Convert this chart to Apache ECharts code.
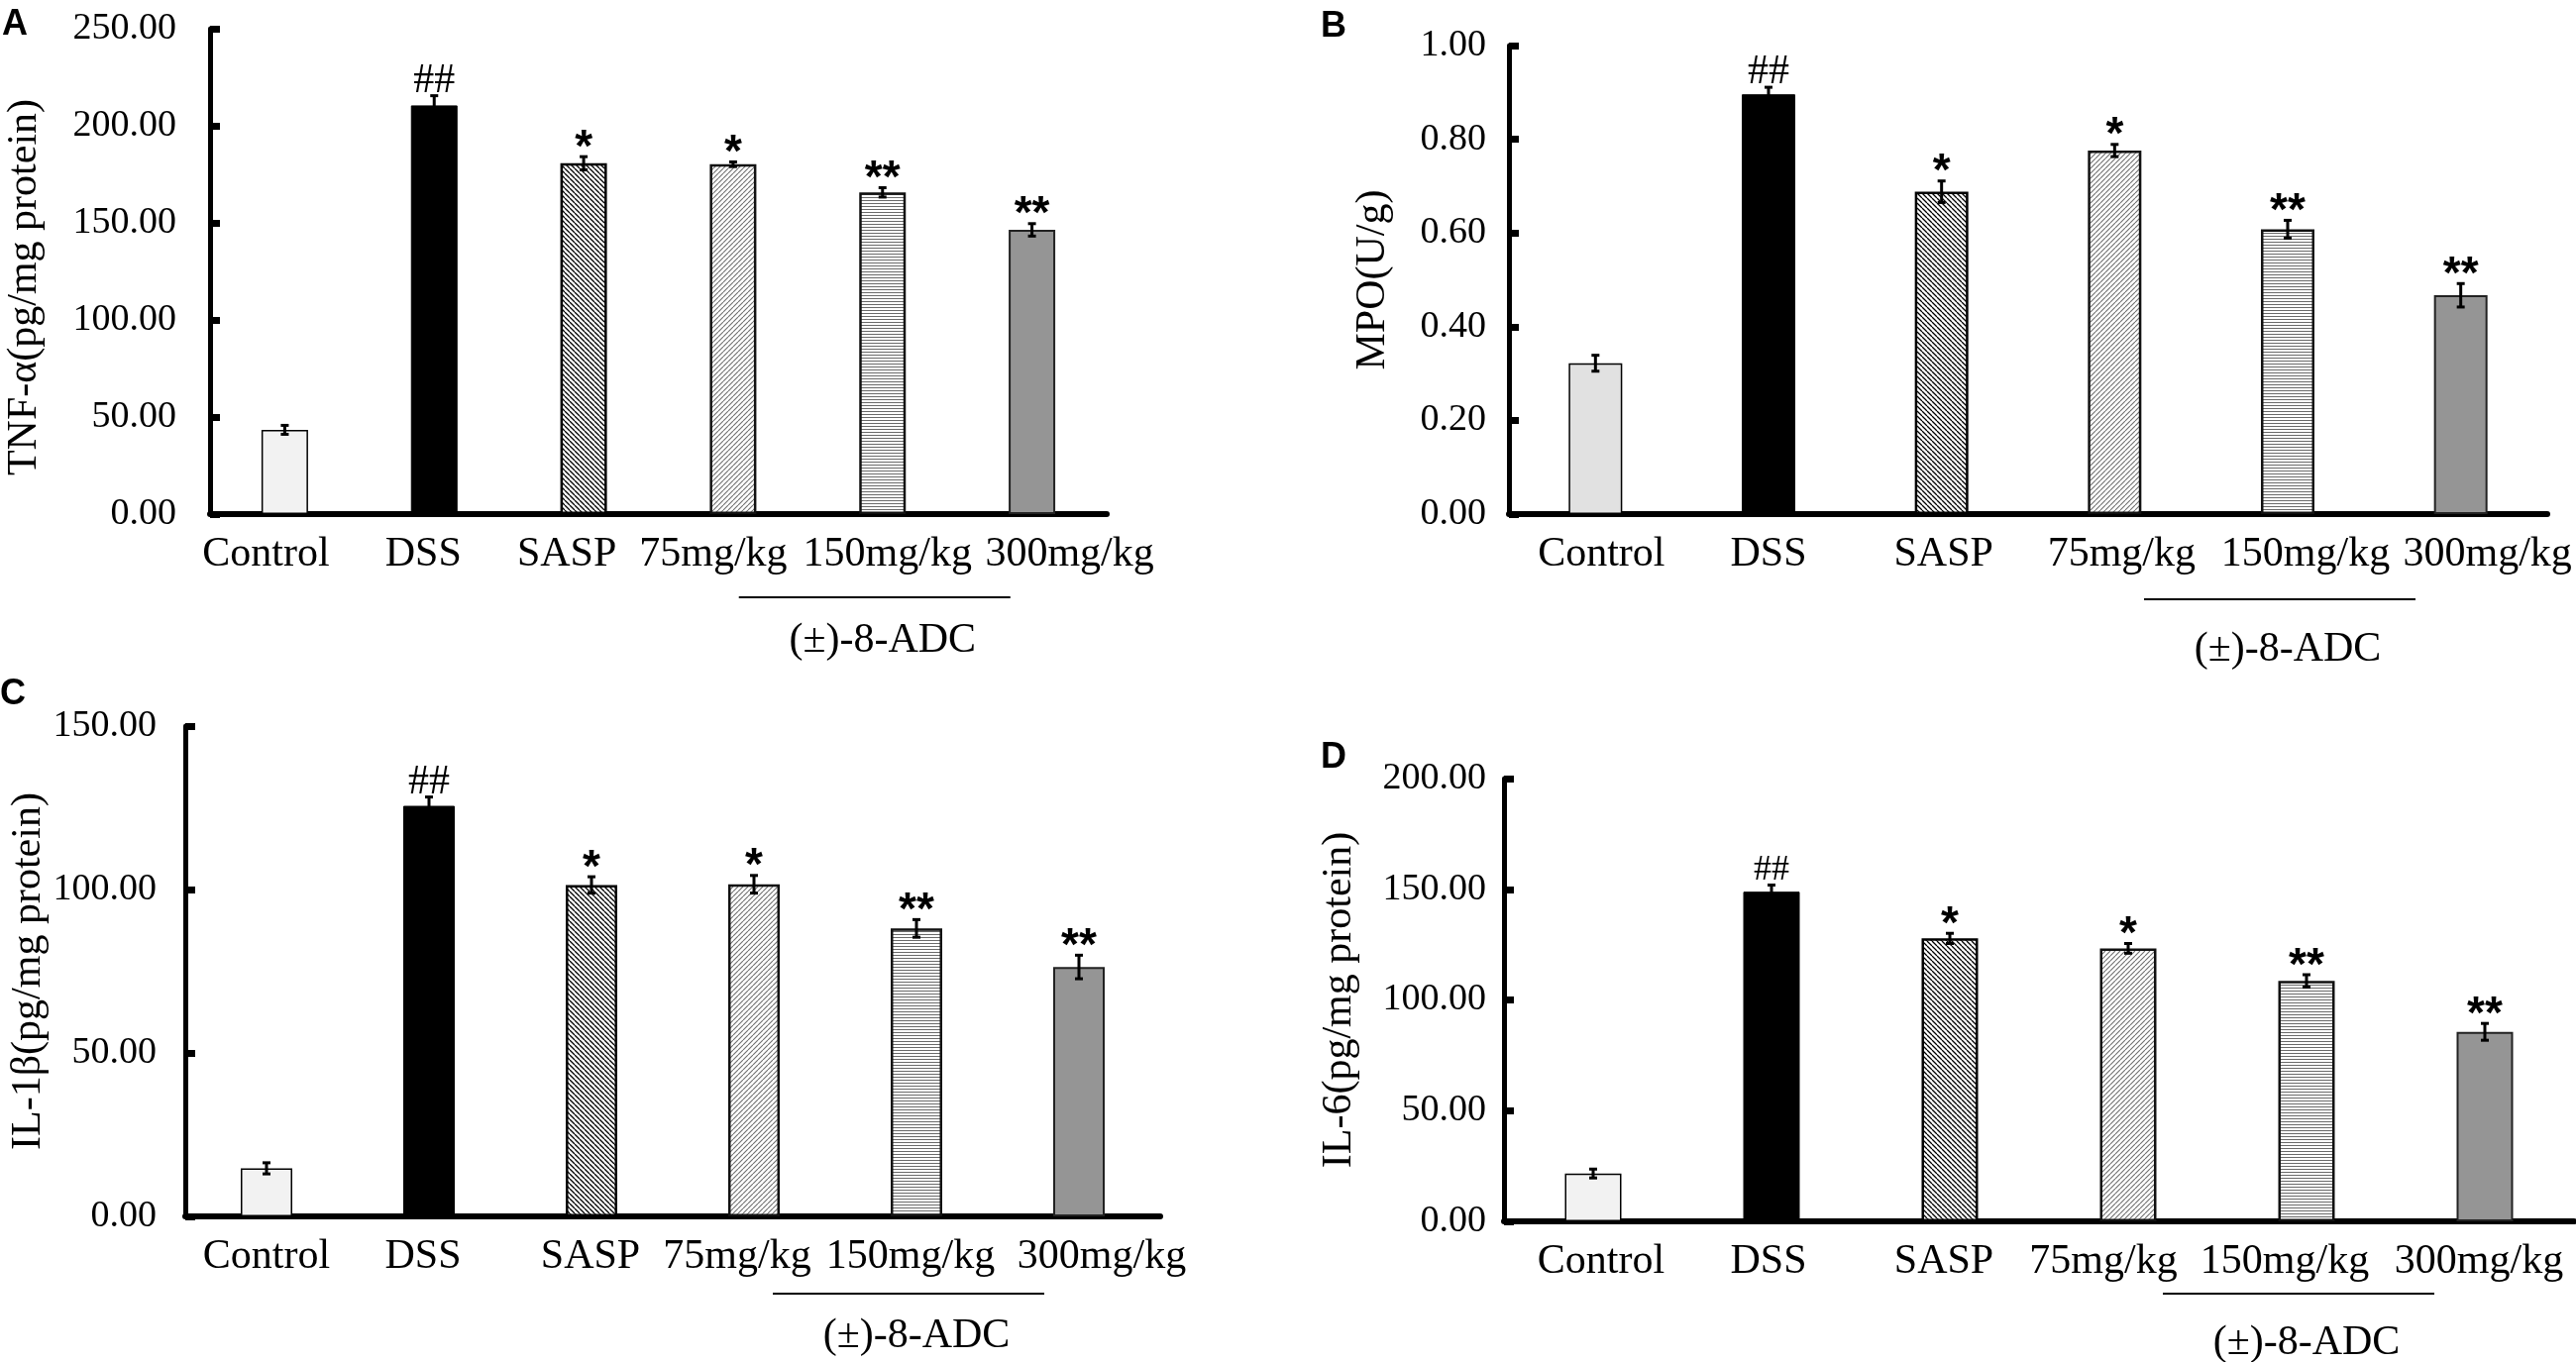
<!DOCTYPE html>
<html>
<head>
<meta charset="utf-8">
<script src="https://cdn.jsdelivr.net/npm/echarts@6/dist/echarts.min.js"></script>
<style>
  html, body { margin: 0; background: #fff; }
  #chart { width: 2600px; height: 1375px; }
</style>
</head>
<body>
<div id="chart"></div>
<script>
// groups on the x axis
const categories = ["Control", "DSS", "SASP", "75mg/kg", "150mg/kg", "300mg/kg"];
const groupLabel = "(±)-8-ADC";
const marks = ["", "##", "*", "*", "**", "**"];

// A: TNF-alpha
const tnfMean = [43.4, 210.5, 180.7, 180.2, 165.7, 146.4];
const tnfErr = [2.3, 5.0, 3.4, 1.2, 2.4, 3.2];
// B: MPO
const mpoMean = [0.322, 0.896, 0.688, 0.776, 0.608, 0.467];
const mpoErr = [0.017, 0.015, 0.023, 0.013, 0.019, 0.025];
// C: IL-1beta
const il1bMean = [14.7, 125.6, 101.4, 101.6, 88.1, 76.3];
const il1bErr = [1.7, 2.7, 2.5, 2.7, 2.7, 3.6];
// D: IL-6
const il6Mean = [21.6, 148.9, 127.8, 123.3, 108.6, 85.6];
const il6Err = [2.0, 3.0, 2.3, 2.2, 2.8, 3.8];

const panelLetters = ["A", "B", "C", "D"];
const yNames = ["TNF-α(pg/mg protein)", "MPO(U/g)", "IL-1β(pg/mg protein)", "IL-6(pg/mg protein)"];
const yMax = [250, 1, 150, 200];
const yStep = [50, 0.2, 50, 50];
const means = [tnfMean, mpoMean, il1bMean, il6Mean];
const errs = [tnfErr, mpoErr, il1bErr, il6Err];

// positions / sizes (pixels); shift = horizontal nudge of each x label
const layout = [
  { left: 212, top: 29, width: 905, height: 490, bar: 47, nameGap: 166, nameShift: 16, lblMargin: 34, lblShift: 13, ctrl: "#f2f2f2", letter: [2, 7], hash: "42px 'Liberation Serif'", line: 84, text: 128, shift: [-19, -11, -17, -20, 5, 38] },
  { left: 1523, top: 46, width: 1048, height: 473, bar: 54, nameGap: 116, nameShift: 0, lblMargin: 23, lblShift: 3, ctrl: "#e1e1e1", letter: [1333, 9], hash: "42px 'Liberation Serif'", line: 86, text: 137, shift: [6, 0, 2, 7, 18, 27] },
  { left: 187, top: 733, width: 984, height: 495, bar: 52, nameGap: 137, nameShift: 0, lblMargin: 29, lblShift: 5, ctrl: "#f2f2f2", letter: [0, 683], hash: "42px 'Liberation Serif'", line: 78, text: 121, shift: [0, -6, -1, -17, -6, 23] },
  { left: 1518, top: 786, width: 1080, height: 447, bar: 57, nameGap: 145, nameShift: 0, lblMargin: 18, lblShift: 7, ctrl: "#f2f2f2", letter: [1333, 747], hash: "36px 'Liberation Serif'", line: 73, text: 123, shift: [8, -3, -6, -25, -22, -6] },
];

const serif = "Liberation Serif";

function hatch(kind, stroke, lw, size) {
  const c = document.createElement("canvas");
  c.width = size;
  c.height = size;
  const g = c.getContext("2d");
  g.fillStyle = "#fff";
  g.fillRect(0, 0, size, size);
  g.strokeStyle = stroke;
  g.lineWidth = lw;
  g.beginPath();
  if (kind === "horiz") {
    g.moveTo(0, size / 2);
    g.lineTo(size, size / 2);
  } else {
    for (let k = -1; k <= 1; k++) {
      if (kind === "back") {
        g.moveTo(k * size, 0);
        g.lineTo(k * size + size, size);
      } else {
        g.moveTo(k * size, size);
        g.lineTo(k * size + size, 0);
      }
    }
  }
  g.stroke();
  return { image: c, repeat: "repeat" };
}

const backHatch = hatch("back", "#000", 1.3, 5);
const fwdHatch = hatch("fwd", "#6f6f6f", 1.1, 5);
const horizHatch = hatch("horiz", "#6a6a6a", 1, 3);

function barStyles(ctrl) {
  return [
    { color: ctrl, borderColor: "#000", borderWidth: 1.5 },
    { color: "#000", borderColor: "#000", borderWidth: 1 },
    { color: backHatch, borderColor: "#000", borderWidth: 2.5 },
    { color: fwdHatch, borderColor: "#111", borderWidth: 2.5 },
    { color: horizHatch, borderColor: "#111", borderWidth: 2.5 },
    { color: "#959595", borderColor: "#222", borderWidth: 2 },
  ];
}

function errRenderer(hashFont) {
  return function (params, api) {
    const i = api.value(0);
    const m = api.value(1);
    const e = api.value(2);
    const top = api.coord([i, m + e]);
    const bot = api.coord([i, m - e]);
    const mark = marks[params.dataIndex];
    const isHash = mark.indexOf("#") >= 0;
    const ln = { stroke: "#000", lineWidth: 3 };
    return {
      type: "group",
      children: [
        { type: "line", shape: { x1: top[0], y1: top[1], x2: bot[0], y2: bot[1] }, style: ln },
        { type: "line", shape: { x1: top[0] - 4, y1: top[1], x2: top[0] + 4, y2: top[1] }, style: ln },
        { type: "line", shape: { x1: bot[0] - 4, y1: bot[1], x2: bot[0] + 4, y2: bot[1] }, style: ln },
        {
          type: "text",
          x: top[0],
          y: top[1] - (isHash ? 15 : 8),
          style: {
            text: mark,
            font: isHash ? hashFont : "bold 46px 'Liberation Sans'",
            fill: "#000",
            textAlign: "center",
            textVerticalAlign: "middle",
          },
        },
      ],
    };
  };
}

function labelRich(shift) {
  const rich = {};
  shift.forEach((d, i) => {
    rich["s" + i] = {
      fontFamily: serif,
      fontSize: 42,
      color: "#000",
      padding: d >= 0 ? [0, 0, 0, 2 * d] : [0, -2 * d, 0, 0],
    };
  });
  return rich;
}

const grid = [], xAxis = [], yAxis = [], series = [], title = [];
layout.forEach((p, k) => {
  grid.push({ left: p.left, top: p.top, width: p.width, height: p.height, outerBoundsMode: "none", containLabel: false });
  xAxis.push({
    type: "category",
    gridIndex: k,
    data: categories,
    axisLine: { show: true, lineStyle: { color: "#000", width: 6 } },
    axisTick: { show: false },
    axisLabel: {
      interval: 0,
      color: "#000",
      fontFamily: serif,
      fontSize: 42,
      margin: 20,
      formatter: (v, i) => "{s" + i + "|" + v + "}",
      rich: labelRich(p.shift),
    },
    splitLine: { show: false },
  });
  yAxis.push({
    type: "value",
    gridIndex: k,
    min: 0,
    max: yMax[k],
    interval: yStep[k],
    name: yNames[k],
    nameLocation: "middle",
    nameRotate: 90,
    nameGap: p.nameGap,
    nameTextStyle: { color: "#000", fontFamily: serif, fontSize: 42, padding: [0, p.nameShift * 2, 0, 0] },
    axisLine: { show: true, lineStyle: { color: "#000", width: 5 } },
    axisTick: { show: true, inside: true, length: 10, lineStyle: { color: "#000", width: 7 } },
    axisLabel: {
      color: "#000",
      fontFamily: serif,
      fontSize: 38,
      margin: p.lblMargin,
      padding: [p.lblShift * 2, 0, 0, 0],
      formatter: (v) => v.toFixed(2),
    },
    splitLine: { show: false },
  });
  const st = barStyles(p.ctrl);
  series.push({
    type: "bar",
    xAxisIndex: k,
    yAxisIndex: k,
    barWidth: p.bar,
    data: means[k].map((v, i) => ({ value: v, itemStyle: st[i] })),
    silent: true,
  });
  series.push({
    type: "custom",
    xAxisIndex: k,
    yAxisIndex: k,
    z: 5,
    silent: true,
    renderItem: errRenderer(p.hash),
    encode: { x: 0, y: 1 },
    data: means[k].map((v, i) => [i, v, errs[k][i]]),
  });
  title.push({
    text: panelLetters[k],
    left: p.letter[0],
    top: p.letter[1],
    padding: 0,
    textStyle: { fontFamily: "Liberation Sans", fontWeight: "bold", fontSize: 36, color: "#000" },
  });
});

const chart = echarts.init(document.getElementById("chart"));
chart.setOption({
  animation: false,
  backgroundColor: "#fff",
  title: title,
  grid: grid,
  xAxis: xAxis,
  yAxis: yAxis,
  series: series,
});

// bracket under the three (±)-8-ADC doses
const graphic = [];
layout.forEach((p, k) => {
  const pt = chart.convertToPixel({ gridIndex: k }, [categories[4], 0]);
  const cx = pt[0] - 8;
  graphic.push({
    type: "line",
    shape: { x1: cx - 137, y1: pt[1] + p.line, x2: cx + 137, y2: pt[1] + p.line },
    style: { stroke: "#000", lineWidth: 2 },
  });
  graphic.push({
    type: "text",
    x: pt[0],
    y: pt[1] + p.text,
    style: {
      text: groupLabel,
      font: "42px 'Liberation Serif'",
      fill: "#000",
      textAlign: "center",
      textVerticalAlign: "middle",
    },
  });
});
chart.setOption({ graphic: graphic });

window.addEventListener("resize", () => chart.resize());
</script>
</body>
</html>
